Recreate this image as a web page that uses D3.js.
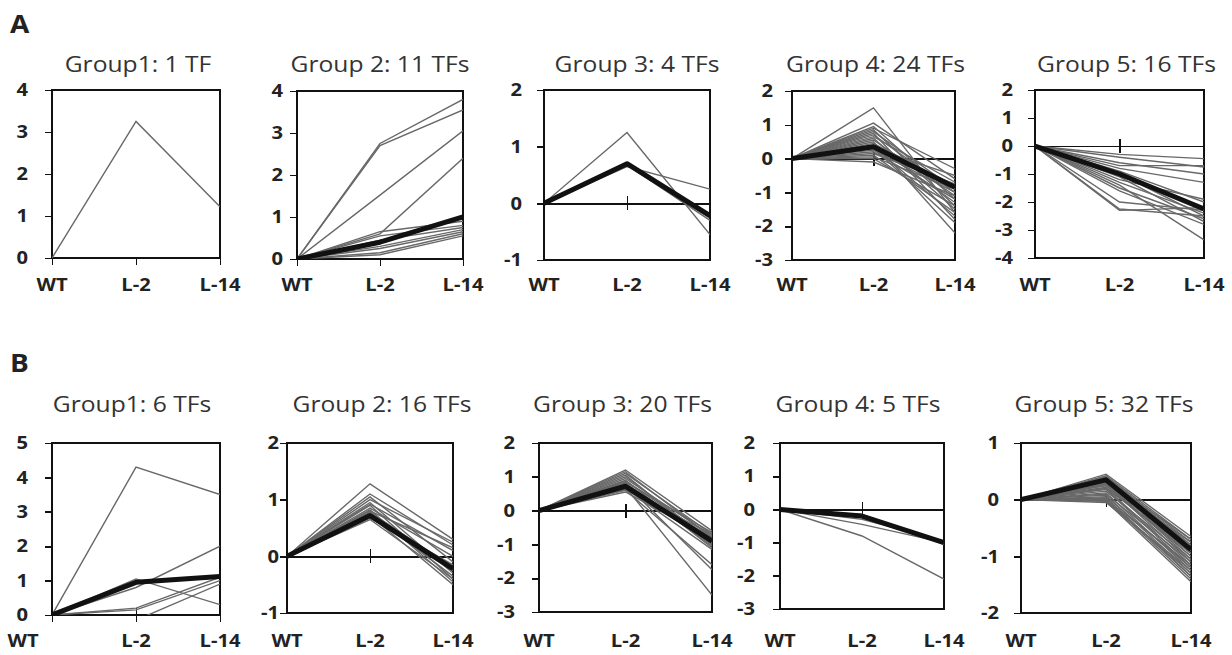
<!DOCTYPE html>
<meta charset="utf-8"/>
<head>
<script src="https://cdnjs.cloudflare.com/ajax/libs/d3/7.8.5/d3.min.js"></script>
<style>
body { margin: 0; background: #fff; }
svg { display: block; background: #fff; }
text { font-family: 'Open Sans', sans-serif; }
.frame { fill: none; stroke: #111; stroke-width: 1.8px; shape-rendering: crispEdges; }
.tf { fill: none; stroke: #686868; stroke-width: 1.4px; }
.mean { fill: none; stroke: #111; stroke-width: 5px; stroke-linejoin: round; }
.axis path, .axis line { stroke: #111; stroke-width: 1.6px; shape-rendering: crispEdges; }
.axis text { font-size: 18px; font-weight: 700; fill: #222; }
.cat { font-size: 18px; font-weight: 700; fill: #222; }
.title { font-size: 22px; fill: #333; }
.letter { font-size: 25px; font-weight: 700; fill: #222; }
</style>
</head>
<body>
<div id="chart"></div>
<script>

// time points
var cats = ["WT", "L-2", "L-14"];

// every TF starts at 0 for WT, values below are [L-2, L-14]
var titlesA = ["Group1: 1 TF", "Group 2: 11 TFs", "Group 3: 4 TFs", "Group 4: 24 TFs", "Group 5: 16 TFs"];
var titlesB = ["Group1: 6 TFs", "Group 2: 16 TFs", "Group 3: 20 TFs", "Group 4: 5 TFs", "Group 5: 32 TFs"];

var yRangesA = [[0, 4], [0, 4], [-1, 2], [-3, 2], [-4, 2]];
var yRangesB = [[0, 5], [-1, 2], [-3, 2], [-3, 2], [-2, 1]];

var a1Lines = [[3.25, 1.22]];
var a1Mean = null;

var a2Lines = [[2.75, 3.8], [2.7, 3.55], [1.52, 3.05], [0.6, 2.4], [0.65, 0.9], [0.55, 0.8],
  [0.45, 0.75], [0.3, 0.7], [0.25, 0.65], [0.15, 0.6], [0.1, 0.55]];
var a2Mean = [0.4, 1.0];

var a3Lines = [[1.25, -0.55], [0.65, 0.25], [0.7, -0.2], [0.68, -0.3]];
var a3Mean = [0.7, -0.22];

var a4Lines = [[1.5, -1.6], [1.05, -0.6], [0.95, -1.2], [0.9, -0.3], [0.85, -1.4], [0.8, -0.9],
  [0.75, -1.8], [0.7, -1.0], [0.65, -0.7], [0.6, -1.5], [0.55, -1.1], [0.5, -2.2],
  [0.45, -0.8], [0.4, -1.3], [0.35, -1.7], [0.3, -0.5], [0.3, -1.9], [0.25, -1.0],
  [0.2, -1.2], [0.15, -0.75], [0.1, -1.6], [0.05, -0.9], [0.0, -1.4], [-0.1, -1.1]];
var a4Mean = [0.35, -0.85];

var a5Lines = [[-0.3, -0.45], [-0.4, -0.75], [-0.6, -1.0], [-0.7, -0.7], [-0.8, -1.3], [-0.9, -2.0],
  [-1.0, -2.5], [-1.1, -2.7], [-1.2, -1.9], [-1.3, -2.4], [-1.4, -3.35], [-1.5, -2.6],
  [-1.6, -2.8], [-2.0, -2.3], [-2.25, -2.5], [-2.3, -2.2]];
var a5Mean = [-1.0, -2.25];

var b1Lines = [[4.3, 3.5], [1.05, 0.3], [0.8, 2.0], [0.2, 1.1], [0.15, 1.0], [-0.15, 0.9]];
var b1Mean = [0.95, 1.12];

var b2Lines = [[1.28, 0.3], [1.1, 0.2], [1.05, -0.1], [1.0, 0.25], [0.95, -0.3], [0.92, 0.1],
  [0.9, -0.4], [0.85, 0.0], [0.82, -0.45], [0.8, 0.15], [0.78, -0.2], [0.75, -0.35],
  [0.72, -0.5], [0.7, -0.25], [0.68, -0.15], [0.65, -0.4]];
var b2Mean = [0.72, -0.22];

var b3Lines = [[1.2, -0.6], [1.15, -0.8], [1.1, -0.7], [1.05, -1.0], [1.0, -0.9], [0.95, -0.75],
  [0.9, -1.1], [0.88, -0.85], [0.85, -0.65], [0.82, -1.05], [0.8, -0.95], [0.78, -1.75],
  [0.75, -0.8], [0.72, -1.0], [0.7, -2.5], [0.68, -0.9], [0.65, -1.15], [0.62, -0.7],
  [0.6, -1.6], [0.55, -0.85]];
var b3Mean = [0.72, -0.9];

var b4Lines = [[-0.8, -2.1], [-0.45, -1.0], [-0.3, -0.95], [-0.15, -1.0], [-0.2, -1.05]];
var b4Mean = [-0.2, -1.0];

var b5Lines = [[0.45, -0.65], [0.42, -0.7], [0.4, -0.75], [0.4, -0.8], [0.38, -0.85], [0.36, -0.9],
  [0.35, -0.7], [0.35, -0.95], [0.33, -1.0], [0.32, -0.8], [0.3, -0.9], [0.3, -1.05],
  [0.28, -0.75], [0.27, -1.1], [0.25, -0.85], [0.25, -1.0], [0.22, -0.95], [0.2, -1.15],
  [0.2, -0.9], [0.18, -1.2], [0.15, -1.05], [0.12, -1.25], [0.1, -1.1], [0.08, -1.3],
  [0.05, -1.2], [0.03, -1.35], [0.0, -1.4], [-0.02, -1.3], [-0.03, -1.45], [-0.05, -1.25],
  [0.0, -1.15], [0.02, -1.35]];
var b5Mean = [0.35, -0.88];

var linesA = [a1Lines, a2Lines, a3Lines, a4Lines, a5Lines];
var meansA = [a1Mean, a2Mean, a3Mean, a4Mean, a5Mean];
var linesB = [b1Lines, b2Lines, b3Lines, b4Lines, b5Lines];
var meansB = [b1Mean, b2Mean, b3Mean, b4Mean, b5Mean];

// plot boxes [left, right, top, bottom], label offsets
var boxesA = [[52, 220, 90, 258], [297, 463, 91, 259], [544, 710, 90, 260], [792, 955, 91, 260], [1035, 1204, 90, 258]];
var boxesB = [[52, 220, 443, 615], [287, 453, 443, 613], [539, 712, 443, 612], [780, 944, 443, 609], [1021, 1191, 443, 613]];
var yLabOffA = [24, 14, 22, 19, 22];
var yLabOffB = [24, 8, 24, 25, 22];
var titleDxA = [2, 0, 10, 2, 7];
var titleDxB = [-4, 12, -3, -4, -2];

var sx = 1.12; // text is a bit stretched in the picture

var W = 1232, H = 655;
var svg = d3.select("#chart").append("svg").attr("width", W).attr("height", H);

function stretchText(sel, x, y, str, cls, anchor) {
  return sel.append("text")
    .attr("class", cls)
    .attr("text-anchor", anchor || "middle")
    .attr("transform", "translate(" + x + "," + y + ") scale(" + sx + ",1)")
    .text(str);
}

stretchText(svg, 10, 33, "A", "letter", "start");
stretchText(svg, 10, 372, "B", "letter", "start");

function drawPanel(id, box, yr, title, lines, mean, opt) {
  var g = svg.append("g");
  var x = d3.scalePoint().domain(cats).range([box[0], box[1]]);
  var y = d3.scaleLinear().domain(yr).range([box[3], box[2]]);

  g.append("clipPath").attr("id", "clip" + id)
    .append("rect")
    .attr("x", box[0]).attr("y", box[2])
    .attr("width", box[1] - box[0]).attr("height", box[3] - box[2]);

  // title
  stretchText(g, (box[0] + box[1]) / 2 + opt.titleDx, opt.titleY, title, "title");

  // plot frame
  g.append("rect").attr("class", "frame")
    .attr("x", box[0]).attr("y", box[2])
    .attr("width", box[1] - box[0]).attr("height", box[3] - box[2]);

  // value axis
  var yAxis = d3.axisLeft(y)
    .tickValues(d3.range(yr[0], yr[1] + 1))
    .tickSize(7)
    .tickPadding(opt.yLabOff / sx - 7)
    .tickFormat(function(d) { return String(d); });
  var ya = g.append("g").attr("class", "axis")
    .attr("transform", "translate(" + box[0] + ",0)")
    .call(yAxis);
  ya.selectAll("text").attr("transform", "scale(" + sx + ",1)");

  // category axis at zero
  var y0 = y(Math.max(0, yr[0]));
  var xDown = d3.axisBottom(x).tickSize(opt.tickDown).tickFormat("");
  g.append("g").attr("class", "axis")
    .attr("transform", "translate(0," + y0 + ")")
    .call(xDown);
  if (opt.tickUp > 0) {
    var xUp = d3.axisTop(x).tickSize(opt.tickUp).tickFormat("");
    g.append("g").attr("class", "axis")
      .attr("transform", "translate(0," + y0 + ")")
      .call(xUp);
  }

  // category labels
  cats.forEach(function(c, i) {
    var cx = x(c) + (i === 0 ? opt.wtDx : 0);
    stretchText(g, cx, opt.catY, c, "cat");
  });

  var line = d3.line()
    .x(function(d) { return x(d.cat); })
    .y(function(d) { return y(d.v); });

  function toPts(pair) {
    return [{ cat: cats[0], v: 0 }, { cat: cats[1], v: pair[0] }, { cat: cats[2], v: pair[1] }];
  }

  var plot = g.append("g").attr("clip-path", "url(#clip" + id + ")");
  plot.selectAll(".tf")
    .data(lines)
    .enter().append("path")
    .attr("class", "tf")
    .attr("d", function(d) { return line(toPts(d)); });

  if (mean) {
    plot.append("path")
      .attr("class", "mean")
      .attr("d", line(toPts(mean)));
  }
}

for (var i = 0; i < 5; i++) {
  var zeroInsideA = yRangesA[i][0] < 0;
  drawPanel("a" + i, boxesA[i], yRangesA[i], titlesA[i], linesA[i], meansA[i], {
    titleY: 72, catY: 291, yLabOff: yLabOffA[i], titleDx: titleDxA[i],
    tickDown: 7, tickUp: zeroInsideA ? 7 : 0, wtDx: 0
  });
}
for (var j = 0; j < 5; j++) {
  drawPanel("b" + j, boxesB[j], yRangesB[j], titlesB[j], linesB[j], meansB[j], {
    titleY: 412, catY: 647, yLabOff: yLabOffB[j], titleDx: titleDxB[j],
    tickDown: 7, tickUp: 7, wtDx: j === 0 ? -29 : 0
  });
}

</script>
</body>
